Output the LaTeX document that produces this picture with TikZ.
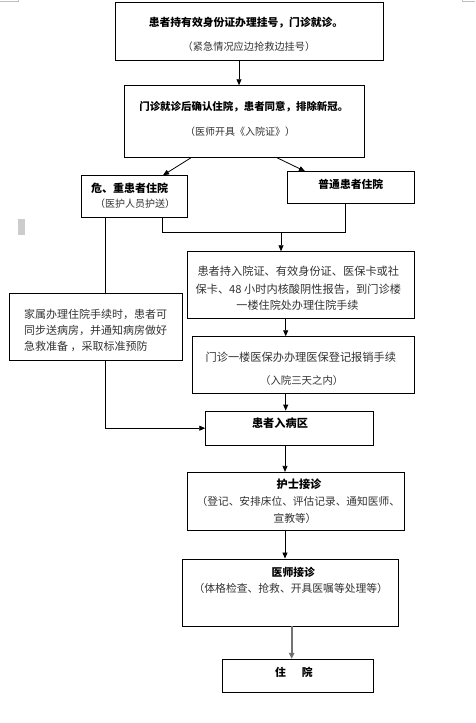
\documentclass[tikz,border=0pt]{standalone}
\usepackage{fontspec}
\setmainfont{Noto Sans CJK SC}
\usetikzlibrary{arrows.meta,calc}
\tikzset{
  box/.style={draw=black, line width=0.9pt, fill=white, rectangle, inner sep=0pt},
  ttl/.style={inner sep=0pt, text=black},
  txt/.style={inner sep=0pt, text=black!80},
  link/.style={line width=0.8pt},
  arr/.style={line width=0.8pt, -{Triangle[length=6pt,width=5pt]}},
  grayarr/.style={line width=1.8pt, draw=black!55, -{Triangle[length=6pt,width=5.5pt,fill=black]}},
}
\newcommand{\fsz}[1]{\fontsize{#1}{#1}\selectfont}
\begin{document}
\begin{tikzpicture}[x=1pt,y=-1pt]
\useasboundingbox (0,0) rectangle (475,723);
% page marks
\draw[gray!50, line width=0.6pt] (0,1.5) -- (18,1.5) -- (18,0);
\draw[gray!50, line width=0.6pt] (462,0) -- (462,1.5) -- (475,1.5);
\fill[gray!40] (18,219) rectangle (25,235);

% boxes
\node[box, minimum width=267.6pt, minimum height=58pt]   (b1) at (249.5,31.3) {};
\node[box, minimum width=239.6pt, minimum height=71.6pt] (b2) at (244.5,121.5) {};
\node[box, minimum width=105.6pt, minimum height=41.6pt] (bL) at (134.5,196.5) {};
\node[box, minimum width=127pt,   minimum height=31.6pt] (bR) at (350.8,187.5) {};
\node[box, minimum width=227pt,   minimum height=66.6pt] (b4) at (300.8,285) {};
\node[box, minimum width=173.4pt, minimum height=67pt]   (bF) at (96,326.8) {};
\node[box, minimum width=221.6pt, minimum height=56.6pt] (b5) at (303.5,365) {};
\node[box, minimum width=167.6pt, minimum height=34.3pt] (b6) at (289.5,428.2) {};
\node[box, minimum width=217pt,   minimum height=57.7pt] (b7) at (295.8,501.2) {};
\node[box, minimum width=216pt,   minimum height=67pt]   (b8) at (290.3,592.5) {};
\node[box, minimum width=151pt,   minimum height=33pt]   (b9) at (297.8,675.8) {};

% texts
\node[ttl, font=\fsz{10.8}\bfseries] (t1a) at (246,23) {患者持有效身份证办理挂号，门诊就诊。};
\node[txt, font=\fsz{10.2}] (t1b) at (249,47) {（紧急情况应边抢救边挂号）};
\node[ttl, font=\fsz{10.45}\bfseries] (t2a) at (243.8,107) {门诊就诊后确认住院，患者同意，排除新冠。};
\node[txt, font=\fsz{10}] (t2b) at (240,132) {（医师开具《入院证》）};
\node[ttl, font=\fsz{11}\bfseries] (tLa) at (129.5,188) {危、重患者住院};
\node[txt, font=\fsz{10}] (tLb) at (135,204) {（医护人员护送）};
\node[ttl, font=\fsz{10.8}\bfseries] (tRa) at (350.8,184) {普通患者住院};
\node[txt, font=\fsz{11.2}] (t4a) at (298.3,271.7) {患者持入院证、有效身份证、医保卡或社};
\node[txt, font=\fsz{11.2}] (t4b) at (298.3,289.3) {保卡、48 小时内核酸阴性报告，到门诊楼};
\node[txt, font=\fsz{11.1}] (t4c) at (297.5,305) {一楼住院处办理住院手续};
\node[txt, font=\fsz{11}, anchor=west] (tFa) at (24,314) {家属办理住院手续时，患者可};
\node[txt, font=\fsz{11}, anchor=west] (tFb) at (24,330.7) {同步送病房，并通知病房做好};
\node[txt, font=\fsz{11}, anchor=west] (tFc) at (24,346) {急救准备 ，采取标准预防};
\node[txt, font=\fsz{11.2}] (t5a) at (300.8,357.3) {门诊一楼医保办办理医保登记报销手续};
\node[txt, font=\fsz{10.4}] (t5b) at (301.7,380.7) {（入院三天之内）};
\node[ttl, font=\fsz{11.2}\bfseries] (t6a) at (280,423.3) {患者入病区};
\node[ttl, font=\fsz{11.2}\bfseries] (t7a) at (299,484.3) {护士接诊};
\node[txt, font=\fsz{10.7}] (t7b) at (298.3,501.7) {（登记、安排床位、评估记录、通知医师、};
\node[txt, font=\fsz{10.7}] (t7c) at (295,518.3) {宣教等）};
\node[ttl, font=\fsz{10.8}\bfseries] (t8a) at (293.3,572.7) {医师接诊};
\node[txt, font=\fsz{10.8}] (t8b) at (290.8,588.3) {（体格检查、抢救、开具医嘱等处理等）};
\node[ttl, font=\fsz{10.8}\bfseries] (t9a) at (294,672.7) {住\hspace{16pt}院};

% connector points
\coordinate (c1) at ([xshift=-10.5pt]b1.south);
\coordinate (c2a) at ([xshift=-53.5pt]b2.south);
\coordinate (c2b) at ([xshift=28.5pt]bL.north);
\coordinate (c3a) at ([xshift=32.5pt]b2.south);
\coordinate (c3b) at ([xshift=-45.8pt]bR.north);
\coordinate (cL1) at ([xshift=28.2pt]bL.south);
\coordinate (cR1) at ([xshift=-5.8pt]bR.south);
\coordinate (j) at (281,232.7);
\coordinate (cL2) at ([xshift=-28.8pt]bL.south);
\coordinate (cF) at ([xshift=9.7pt]bF.south);
\coordinate (c4) at ([xshift=-15.1pt]b4.south);
\coordinate (c5) at ([xshift=-17.8pt]b5.south);
\coordinate (c6) at ([xshift=-4.5pt]b6.south);
\coordinate (c7) at ([xshift=-10.8pt]b7.south);
\coordinate (c8) at ([xshift=1.4pt]b8.south);

% connectors
\draw[arr] (c1) -- (c1 |- b2.north);
\draw[arr] (c2a) -- (c2b);
\draw[arr] (c3a) -- (c3b);
\draw[link] (cL1) |- (j) -| (cR1);
\draw[arr] (j) -- (j |- b4.north);
\draw[link] (cL2) -- (cL2 |- bF.north);
\draw[arr] (cF) |- (b6.west);
\draw[arr] (c4) -- (c4 |- b5.north);
\draw[arr] (c5) -- (c5 |- b6.north);
\draw[arr] (c6) -- (c6 |- b7.north);
\draw[arr] (c7) -- (c7 |- b8.north);
\draw[grayarr] (c8) -- (c8 |- b9.north);
\end{tikzpicture}
\end{document}
